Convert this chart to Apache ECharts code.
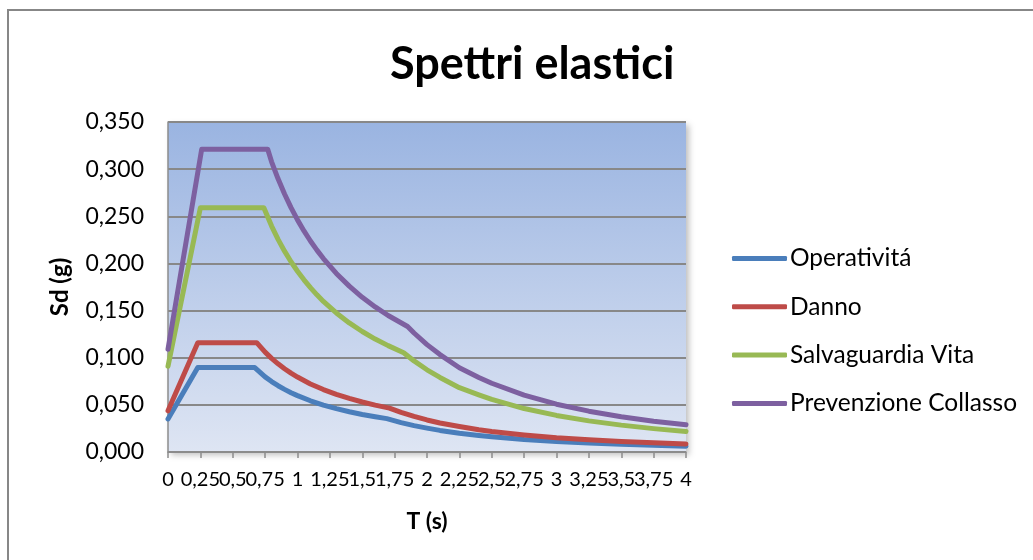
<!DOCTYPE html>
<html>
<head>
<meta charset="utf-8">
<script src="https://cdn.jsdelivr.net/npm/echarts@6/dist/echarts.min.js"></script>
<style>
html,body{margin:0;padding:0;background:#fff;}
#chart{width:1033px;height:560px;}
</style>
</head>
<body>
<div id="chart"></div>
<script>
// ---- data ----
const seriesNames = ['Operativitá', 'Danno', 'Salvaguardia Vita', 'Prevenzione Collasso'];

const tOperativita = [0, 0.23, 0.67, 0.75, 0.8, 0.85, 0.9, 0.95, 1.0, 1.1, 1.2, 1.3, 1.4, 1.5, 1.6, 1.69, 1.8, 1.9, 2.0, 2.1, 2.25, 2.4, 2.5, 2.75, 3.0, 3.25, 3.5, 3.75, 4.0];
const sdOperativita = [0.035, 0.0896, 0.0896, 0.0797, 0.0747, 0.0703, 0.0664, 0.0629, 0.0598, 0.0543, 0.0498, 0.0460, 0.0427, 0.0398, 0.0374, 0.0354, 0.0312, 0.0280, 0.0253, 0.0229, 0.0199, 0.0176, 0.0162, 0.0133, 0.0112, 0.0095, 0.0083, 0.0072, 0.0062];

const tDanno = [0, 0.23, 0.685, 0.75, 0.8, 0.85, 0.9, 0.95, 1.0, 1.1, 1.2, 1.3, 1.4, 1.5, 1.6, 1.71, 1.8, 1.9, 2.0, 2.1, 2.25, 2.4, 2.5, 2.75, 3.0, 3.25, 3.5, 3.75, 4.0];
const sdDanno = [0.0437, 0.116, 0.116, 0.1059, 0.0993, 0.0935, 0.0883, 0.0836, 0.0795, 0.0722, 0.0662, 0.0611, 0.0568, 0.0530, 0.0497, 0.0465, 0.0420, 0.0377, 0.0340, 0.0308, 0.0270, 0.0236, 0.0218, 0.0181, 0.0151, 0.0130, 0.0111, 0.0097, 0.0085];

const tSalvaguardia = [0, 0.25, 0.74, 0.8, 0.85, 0.9, 0.95, 1.0, 1.05, 1.1, 1.15, 1.2, 1.3, 1.4, 1.5, 1.6, 1.7, 1.82, 1.9, 2.0, 2.1, 2.25, 2.4, 2.5, 2.75, 3.0, 3.25, 3.5, 3.75, 4.0];
const sdSalvaguardia = [0.091, 0.259, 0.259, 0.2396, 0.2255, 0.2130, 0.2018, 0.1917, 0.1826, 0.1743, 0.1667, 0.1597, 0.1475, 0.1369, 0.1278, 0.1198, 0.1128, 0.1053, 0.0966, 0.0872, 0.0791, 0.0682, 0.0606, 0.0558, 0.0461, 0.0388, 0.0330, 0.0285, 0.0248, 0.0218];

const tPrevenzione = [0, 0.26, 0.77, 0.8, 0.85, 0.9, 0.95, 1.0, 1.05, 1.1, 1.15, 1.2, 1.3, 1.4, 1.5, 1.6, 1.7, 1.85, 1.9, 2.0, 2.1, 2.25, 2.4, 2.5, 2.75, 3.0, 3.25, 3.5, 3.75, 4.0];
const sdPrevenzione = [0.109, 0.321, 0.321, 0.3078, 0.2897, 0.2736, 0.2592, 0.2462, 0.2345, 0.2238, 0.2141, 0.2052, 0.1894, 0.1759, 0.1641, 0.1539, 0.1448, 0.1331, 0.1262, 0.1139, 0.1033, 0.0893, 0.0791, 0.0729, 0.0603, 0.0507, 0.0433, 0.0373, 0.0326, 0.0288];

const xTickLabels = ['0','0,25','0,5','0,75','1','1,25','1,5','1,75','2','2,25','2,5','2,75','3','3,25','3,5','3,75','4'];
const yTickLabels = ['0,000','0,050','0,100','0,150','0,200','0,250','0,300','0,350'];

const colors = ['#4A7EBB', '#BE4B48', '#98B954', '#7D60A0'];

function pairs(ts, vs) { return ts.map((t, i) => [t, vs[i]]); }
const allT = [tOperativita, tDanno, tSalvaguardia, tPrevenzione];
const allV = [sdOperativita, sdDanno, sdSalvaguardia, sdPrevenzione];

const FONT = 'Lato';
const chart = echarts.init(document.getElementById('chart'), null, {renderer: 'canvas'});

chart.setOption({
  animation: false,
  color: colors,
  textStyle: {fontFamily: FONT},
  title: {
    text: 'Spettri elastici',
    left: 385,
    top: 37,
    textStyle: {fontFamily: FONT, fontWeight: 'bold', fontSize: 45, color: '#000'}
  },
  graphic: [{
    type: 'rect',
    shape: {x: 8, y: 10, width: 1200, height: 800},
    style: {fill: 'none', stroke: '#878787', lineWidth: 2},
    silent: true,
    z: -1
  }],
  grid: {
    left: 168, top: 122, width: 518, height: 330,
    show: true,
    borderWidth: 0,
    backgroundColor: new echarts.graphic.LinearGradient(0, 0, 0, 1, [
      {offset: 0, color: '#9AB4E1'},
      {offset: 1, color: '#DEE5F3'}
    ]),
    shadowColor: 'rgba(0,0,0,0.25)',
    shadowBlur: 6,
    shadowOffsetX: 3,
    shadowOffsetY: 3
  },
  legend: {
    orient: 'vertical',
    left: 732,
    top: 246,
    padding: 0,
    itemWidth: 55,
    itemHeight: 5,
    itemGap: 23.3,
    icon: 'roundRect',
    textStyle: {fontFamily: FONT, fontSize: 24.5, color: '#000', lineHeight: 24, padding: [0,0,0,-2]},
    data: seriesNames
  },
  xAxis: {
    type: 'value',
    min: 0, max: 4, interval: 0.25,
    name: 'T (s)',
    nameLocation: 'middle',
    nameGap: 58,
    nameTextStyle: {fontFamily: FONT, fontWeight: 'bold', fontSize: 23, color: '#000'},
    axisLine: {show: true, lineStyle: {color: '#8C8C8C', width: 1.5}},
    axisTick: {show: true, length: 6, lineStyle: {color: '#8C8C8C', width: 1.5}},
    axisLabel: {
      margin: 18, fontFamily: FONT, fontSize: 20, color: '#000',
      formatter: function (v) { return xTickLabels[Math.round(v / 0.25)]; }
    },
    splitLine: {show: false}
  },
  yAxis: {
    type: 'value',
    min: 0, max: 0.35, interval: 0.05,
    name: 'Sd (g)',
    nameLocation: 'middle',
    nameRotate: 90,
    nameGap: 96,
    nameTextStyle: {fontFamily: FONT, fontWeight: 'bold', fontSize: 24, color: '#000'},
    axisLine: {show: true, lineStyle: {color: '#8C8C8C', width: 1.5}},
    axisTick: {show: false},
    axisLabel: {
      margin: 24, fontFamily: FONT, fontSize: 23, color: '#000',
      formatter: function (v) { return yTickLabels[Math.round(v / 0.05)]; }
    },
    splitLine: {show: true, lineStyle: {color: '#888888', width: 2}}
  },
  series: seriesNames.map((n, i) => ({
    name: n,
    type: 'line',
    data: pairs(allT[i], allV[i]),
    showSymbol: false,
    symbol: 'none',
    smooth: false,
    lineStyle: {width: 5, color: colors[i], cap: 'round', join: 'round'},
    itemStyle: {color: colors[i]}
  }))
});
</script>
</body>
</html>
